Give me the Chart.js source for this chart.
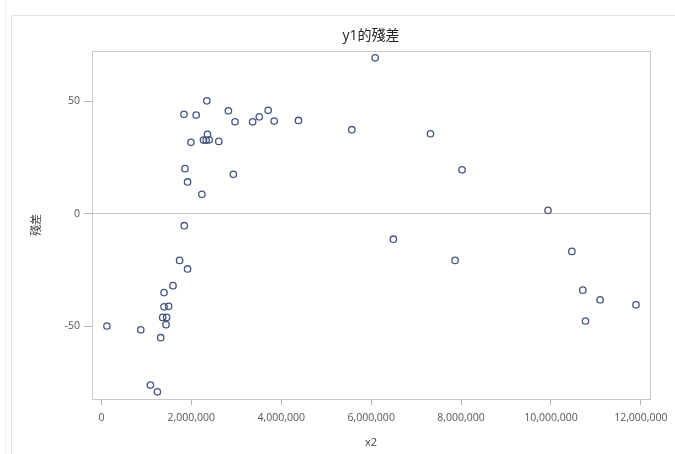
<!DOCTYPE html>
<html>
<head>
<meta charset="utf-8">
<script src="https://cdn.jsdelivr.net/npm/chart.js@4/dist/chart.umd.min.js"></script>
<style>
  html, body { margin: 0; padding: 0; background: #fff; }
  #caja { position: relative; width: 675px; height: 454px; overflow: hidden; }
  #marco { position: absolute; left: 11px; top: 15px; width: 700px; height: 460px; border: 1px solid #e4e4e4; }
  #linea { position: absolute; left: 5px; top: 0; width: 1px; height: 454px; background: #ececec; }
  canvas { position: absolute; left: 0; top: 0; }
</style>
</head>
<body>
<div id="caja">
  <div id="linea"></div>
  <div id="marco"></div>
  <canvas id="grafica" width="675" height="454"></canvas>
</div>
<script>
// valores (x2, residuo de y1)
var valores_x2 = [
  2345000, 1836000, 2108000, 2824000, 2972000, 3364000, 3511000, 3710000, 3843000, 4383000,
  2359000, 2270000, 2330000, 2396000, 2611000, 1991000, 1858000, 2935000, 1916000, 2235000,
  6089000, 5570000, 7320000, 8022000, 9934000, 6494000, 7867000, 10465000, 10709000, 11094000,
  10768000, 11891000, 1843000, 1739000, 1916000, 1592000, 1393000, 1393000, 1495000, 1362000,
  1451000, 1437000, 122000, 875000, 1318000, 1090000, 1245000
]
var valores_residuo = [
  50.1, 44.1, 43.8, 45.7, 40.8, 40.8, 43.0, 45.9, 41.1, 41.4,
  35.2, 32.7, 32.6, 32.8, 32.1, 31.7, 20.0, 17.5, 14.1, 8.6,
  69.2, 37.3, 35.5, 19.5, 1.5, -11.3, -20.7, -16.7, -33.9, -38.2,
  -47.6, -40.4, -5.3, -20.7, -24.5, -31.9, -35.0, -41.3, -41.1, -46.0,
  -46.0, -49.2, -49.8, -51.5, -55.0, -76.0, -79.0
]
var ticks_x = [0, 2000000, 4000000, 6000000, 8000000, 10000000, 12000000]
var ticks_y = [-50, 0, 50]
var titulo_grafica = "y1的殘差"
var titulo_x = "x2"
var titulo_y = "殘差"

var fuente = "'Open Sans', 'Noto Sans', 'Noto Sans CJK TC', sans-serif"

var puntos = []
valores_x2.forEach((x, i) => {
    puntos.push({ x: x, y: valores_residuo[i] })
})

// marco alrededor del area de la grafica
var marco_area = {
    id: "marco_area",
    afterDraw(chart) {
        const { ctx, chartArea } = chart
        ctx.save()
        ctx.strokeStyle = "#c9c9c9"
        ctx.lineWidth = 1
        ctx.strokeRect(Math.round(chartArea.left) + 0.5, Math.round(chartArea.top) + 0.5,
            Math.round(chartArea.right - chartArea.left), Math.round(chartArea.bottom - chartArea.top))
        ctx.restore()
    }
}

var carga = {
    type: "scatter",
    data: {
        datasets: [{
            label: "residuo",
            data: puntos,
            pointRadius: 3.2,
            pointBorderWidth: 1.3,
            pointBorderColor: "#44557f",
            pointBackgroundColor: "rgba(255,255,255,0)"
        }]
    },
    options: {
        responsive: false,
        animation: false,
        layout: { padding: { left: 12, right: 22, top: 0, bottom: 0 } },
        plugins: {
            legend: { display: false },
            tooltip: { enabled: false },
            title: {
                display: true,
                text: titulo_grafica,
                fullSize: false,
                color: "#222",
                font: { family: fuente, size: 14, weight: "normal" },
                padding: { top: 28, bottom: 6 }
            }
        },
        scales: {
            x: {
                type: "linear",
                min: -210000,
                max: 12200000,
                afterFit(s) { s.height = 55 },
                afterBuildTicks(s) { s.ticks = ticks_x.map(v => ({ value: v })) },
                grid: { drawOnChartArea: false, tickLength: 6, tickColor: "#b5b5b5" },
                border: { display: false },
                ticks: {
                    padding: 7,
                    color: "#555",
                    font: { family: fuente, size: 10.5 },
                    maxRotation: 0,
                    callback: v => v.toLocaleString("en-US")
                },
                title: {
                    display: true,
                    text: titulo_x,
                    color: "#444",
                    font: { family: fuente, size: 11 },
                    padding: { top: 4, bottom: 4.4 }
                }
            },
            y: {
                type: "linear",
                min: -82.2,
                max: 72.3,
                afterFit(s) { s.width = 80 },
                afterBuildTicks(s) { s.ticks = ticks_y.map(v => ({ value: v })) },
                grid: {
                    tickLength: 8,
                    color: ctx => ctx.tick && ctx.tick.value === 0 ? "#c6c6c6" : "rgba(0,0,0,0)",
                    tickColor: "#b5b5b5"
                },
                border: { display: false },
                ticks: {
                    padding: 4,
                    color: "#555",
                    font: { family: fuente, size: 10.5 }
                },
                title: {
                    display: true,
                    text: titulo_y,
                    color: "#444",
                    font: { family: "'Noto Sans CJK TC', sans-serif", size: 11 },
                    padding: { top: 17, bottom: 0 }
                }
            }
        }
    },
    plugins: [marco_area]
}

var grafica = new Chart(document.getElementById("grafica"), carga)
</script>
</body>
</html>
